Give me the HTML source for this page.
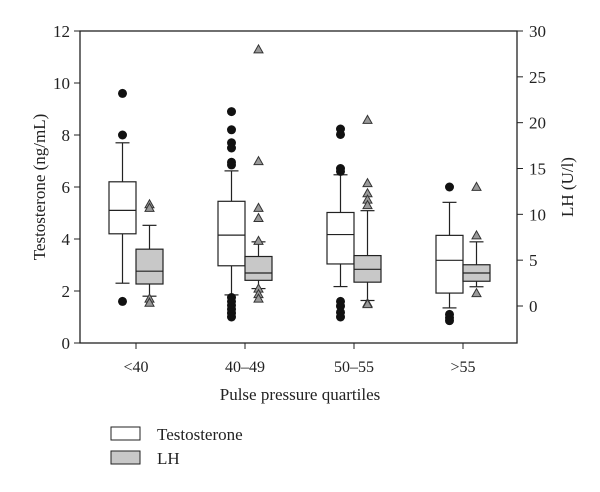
<!DOCTYPE html>
<html><head><meta charset="utf-8"><style>
body{margin:0;background:#fff}
svg{display:block;font-family:"Liberation Serif",serif}
</style></head><body>
<svg id="c" width="600" height="492"></svg>
<script>
const categories=["<40","40–49","50–55",">55"];
const leftTicks=[0,2,4,6,8,10,12];
const rightTicks=[0,5,10,15,20,25,30];
// Testosterone (ng/mL): [whiskLow,q1,median,q3,whiskHigh]
const testoStats=[[2.3,4.2,5.1,6.2,7.7],[1.85,2.97,4.15,5.45,6.62],[2.17,3.04,4.17,5.02,6.47],[1.35,1.92,3.18,4.14,5.41]];
const testoOutliers=[[9.6,8.0,1.6],[8.9,8.2,7.7,7.5,6.95,6.85,1.75,1.6,1.45,1.3,1.15,1.0],[8.23,8.02,6.71,6.6,1.6,1.42,1.18,1.0],[6.0,1.1,0.97,0.86]];
// LH (U/l)
const lhStats=[[1.07,2.4,3.8,6.2,8.8],[1.9,2.8,3.6,5.4,7.0],[0.6,2.6,4.0,5.5,10.4],[2.1,2.7,3.6,4.5,7.0]];
const lhOutliers=[[11.1,10.7,0.8,0.36],[28.0,15.8,10.7,9.6,7.1,1.9,1.3,0.8],[20.3,13.4,12.3,11.6,11.0,0.3,0.2],[13.0,7.7,1.4]];

const svg=document.getElementById('c');const NS='http://www.w3.org/2000/svg';
const X0=80,X1=517,Y0=343,Y1=31;
const yL=v=>Y0-(v/12)*(Y0-Y1);
const yR=v=>306-v*(306-Y1)/30;
const xC=i=>136+i*109;
function mk(t,a,p){const e=document.createElementNS(NS,t);for(const k in a)e.setAttribute(k,a[k]);(p||svg).appendChild(e);return e;}
mk('rect',{x:X0,y:Y1,width:X1-X0,height:Y0-Y1,fill:'none',stroke:'#222','stroke-width':1.3});
leftTicks.forEach(v=>{
 mk('line',{x1:X0-6,x2:X0,y1:yL(v),y2:yL(v),stroke:'#222'});
 const t=mk('text',{x:X0-10,y:yL(v)+6,'text-anchor':'end','font-size':17,fill:'#222'});t.textContent=v;
 
 
});
rightTicks.forEach(v=>{
 mk('line',{x1:X1,x2:X1+6,y1:yR(v),y2:yR(v),stroke:'#222'});
 const t=mk('text',{x:X1+12,y:yR(v)+6,'font-size':17,fill:'#222'});t.textContent=v;
 
 
});
categories.forEach((c,i)=>{
 mk('line',{x1:xC(i),x2:xC(i),y1:Y0,y2:Y0+6,stroke:'#222'});
 const t=mk('text',{x:xC(i),y:372,'text-anchor':'middle','font-size':16,fill:'#222'});t.textContent=c;
 
 
});
function box(cx,s,f,fill,name){
 const g=mk('g',{});
 
 
 const w=27,x=cx-w/2,st={stroke:'#222','stroke-width':1.2};
 mk('line',Object.assign({x1:cx,x2:cx,y1:f(s[0]),y2:f(s[1])},st),g);
 mk('line',Object.assign({x1:cx,x2:cx,y1:f(s[3]),y2:f(s[4])},st),g);
 mk('line',Object.assign({x1:cx-7,x2:cx+7,y1:f(s[0]),y2:f(s[0])},st),g);
 mk('line',Object.assign({x1:cx-7,x2:cx+7,y1:f(s[4]),y2:f(s[4])},st),g);
 mk('rect',Object.assign({x:x,y:f(s[3]),width:w,height:f(s[1])-f(s[3]),fill:fill},st),g);
 mk('line',Object.assign({x1:x,x2:x+w,y1:f(s[2]),y2:f(s[2])},st),g);
}
categories.forEach((c,i)=>{
 const cw=xC(i)-13.5, cg=xC(i)+13.5;
 box(cw,testoStats[i],yL,'#fff','testosterone-box');
 box(cg,lhStats[i],yR,'#c8c8c8','lh-box');
 testoOutliers[i].forEach(v=>{const e=mk('circle',{cx:cw,cy:yL(v),r:4.5,fill:'#111'});
  
  });
 lhOutliers[i].forEach(v=>{const y=yR(v);const e=mk('polygon',{points:`${cg-4.5},${y+3.5} ${cg+4.5},${y+3.5} ${cg},${y-4.5}`,fill:'#999',stroke:'#333','stroke-width':1});
  
  });
});
</script>
<script>
(function(){const svg=document.getElementById('c');const NS='http://www.w3.org/2000/svg';
function t(txt,a,name){const e=document.createElementNS(NS,'text');for(const k in a)e.setAttribute(k,a[k]);e.textContent=txt;svg.appendChild(e);}
t('Pulse pressure quartiles',{x:300,y:400,'text-anchor':'middle','font-size':17,fill:'#222'},'x-axis-title');
t('Testosterone (ng/mL)',{x:0,y:0,transform:'translate(45,187) rotate(-90)','text-anchor':'middle','font-size':17,fill:'#222'},'left-axis-title');
t('LH (U/l)',{x:0,y:0,transform:'translate(573,187) rotate(-90)','text-anchor':'middle','font-size':17,fill:'#222'},'right-axis-title');
function r(y,fill,name){const e=document.createElementNS(NS,'rect');e.setAttribute('x',111);e.setAttribute('y',y);e.setAttribute('width',29);e.setAttribute('height',13);e.setAttribute('fill',fill);e.setAttribute('stroke','#222');svg.appendChild(e);}
r(427,'#fff','legend-swatch-testosterone');r(451,'#c8c8c8','legend-swatch-lh');
t('Testosterone',{x:157,y:440,'font-size':17,fill:'#222'},'legend-label-testosterone');
t('LH',{x:157,y:464,'font-size':17,fill:'#222'},'legend-label-lh');
})();
</script>
</body></html>
